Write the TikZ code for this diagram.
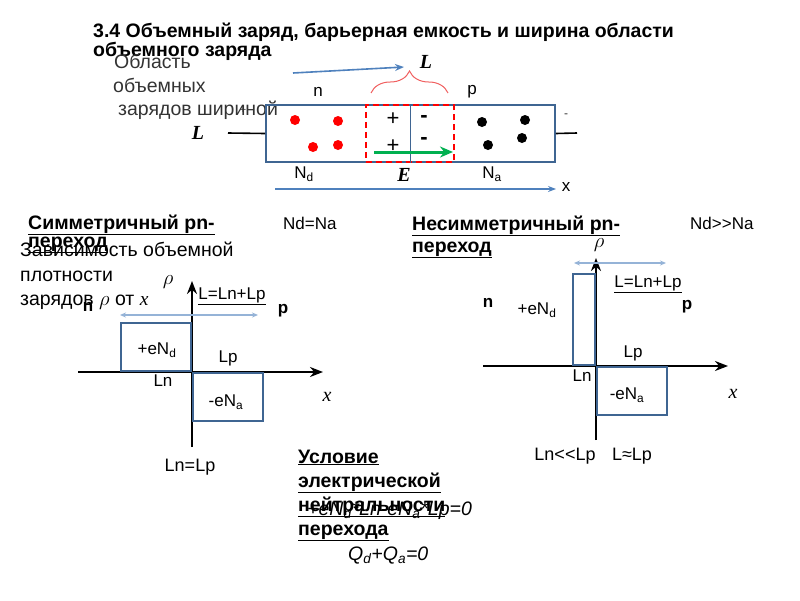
\documentclass[tikz,border=0pt]{standalone}
\usepackage{fontspec}
\setmainfont{Liberation Sans}
\newfontfamily\serif{Liberation Serif}
\usetikzlibrary{arrows.meta,decorations.pathreplacing}
\definecolor{boxblue}{HTML}{3F6592}
\definecolor{arrblue}{HTML}{4F81BD}
\definecolor{lightblue}{HTML}{95B3D7}
\definecolor{dotred}{HTML}{FF0000}
\definecolor{brred}{HTML}{F06060}
\definecolor{egreen}{HTML}{00B050}
\definecolor{txtgray}{HTML}{333333}
\begin{document}
\begin{tikzpicture}[x=1pt,y=-1pt,
  tl/.style={anchor=base west,inner sep=0pt,font=\fontsize{19.5}{21}\selectfont},
  tb/.style={tl,font=\fontsize{19.5}{21}\selectfont\bfseries},
  lb/.style={inner sep=0pt,font=\fontsize{17}{18}\selectfont},
  lbl/.style={inner sep=0pt,font=\fontsize{18}{19}\selectfont},
  lbb/.style={lb,font=\fontsize{17}{18}\selectfont\bfseries},
  sym/.style={inner sep=0pt,font=\fontsize{22}{24}\selectfont},
  itl/.style={inner sep=0pt,font=\fontsize{20}{22}\selectfont\serif\itshape},
  itb/.style={inner sep=0pt,font=\fontsize{20}{22}\selectfont\serif\bfseries\itshape},
  boxline/.style={draw=boxblue,line width=1.6pt},
  axisline/.style={line width=2.2pt,-{Stealth[length=13pt,width=10pt]}},
  dimline/.style={draw=lightblue,line width=1.3pt,{Stealth[length=6pt,width=5pt]}-{Stealth[length=6pt,width=5pt]}},
  reddot/.style={circle,fill=dotred,inner sep=0pt,minimum size=10pt},
  blackdot/.style={circle,fill=black,inner sep=0pt,minimum size=10pt}]
\useasboundingbox (0,0) rectangle (800,600);

% ---------- title ----------
\node[tb] (t1) at (93,37) {3.4 Объемный заряд, барьерная емкость и ширина области};
\node[tb] (t2) at (93,56) {объемного заряда};

% ---------- top diagram ----------
\node[tl,text=txtgray] (o1) at (114,68) {Область};
\node[tl,text=txtgray] (o2) at (113,92) {объемных};
\node[tl,text=txtgray] (o3) at (118,115) {зарядов шириной};
\node[inner sep=0pt,font=\fontsize{11}{12}\selectfont,text=txtgray] (tp) at (243,110) {+};

\coordinate (ba1) at (293,73);
\coordinate (ba2) at (404,67);
\draw[arrblue,line width=1.6pt,-{Stealth[length=9pt,width=7pt]}] (ba1) -- (ba2);

\coordinate (br1) at (371,93);
\coordinate (br2) at (448,93);
\draw[brred,line width=1pt,decorate,decoration={brace,amplitude=22pt}] (br1) -- (br2);
\node[itb] (Ltop) at (426,62) {L};

\coordinate (leadL) at (228,133);
\coordinate (leadR) at (577,133);
\node[boxline,rectangle,minimum width=289pt,minimum height=57pt,inner sep=0pt] (box) at (410.5,133.5) {};
\draw[line width=1.6pt] (leadL) -- (box.west);
\draw[line width=1.6pt] (box.east) -- (leadR);
\node[itb] (Lleft) at (198,133) {L};
\node[inner sep=0pt,font=\fontsize{12}{12}\selectfont,text=txtgray] (tm) at (566,116) {-};

\node[draw=red,dashed,line width=1.6pt,dash pattern=on 6pt off 4pt,minimum width=88pt,minimum height=57pt,inner sep=0pt] (scr) at (410,133.5) {};
\draw[boxline] (box.north) -- (box.south);

\node[lb] (nn) at (318,92) {n};
\node[lb] (pp) at (472,92) {p};

\node[reddot] (r1) at (295,120) {};
\node[reddot] (r2) at (338,121) {};
\node[reddot] (r3) at (313,147) {};
\node[reddot] (r4) at (338,145) {};
\node[blackdot] (k1) at (482,122) {};
\node[blackdot] (k2) at (525,120) {};
\node[blackdot] (k3) at (488,145) {};
\node[blackdot] (k4) at (522,138) {};

\node[sym] (pl1) at (393,119) {+};
\node[sym] (pl2) at (393,146) {+};
\node[sym,font=\fontsize{22}{24}\selectfont\bfseries] (mi1) at (424,119) {-};
\node[sym,font=\fontsize{22}{24}\selectfont\bfseries] (mi2) at (424,141) {-};

\coordinate (e1) at (374,152);
\coordinate (e2) at (453,152);
\draw[egreen,line width=3pt,-{Stealth[length=13pt,width=11pt]}] (e1) -- (e2);
\node[itb] (EE) at (404,175) {E};

\node[lb] (Nd) at (304,174) {N\textsubscript{d}};
\node[lb] (Na) at (492,174) {N\textsubscript{a}};
\coordinate (x1) at (275,189);
\coordinate (x2) at (556,189);
\draw[arrblue,line width=1.3pt,-{Stealth[length=8pt,width=6pt]}] (x1) -- (x2);
\node[lb] (xl) at (566,187) {x};

% ---------- symmetric ----------
\node[tb] (s1) at (28,229) {\underline{Симметричный pn-}};
\node[tb] (s2) at (28,247) {\underline{переход}};
\node[tl,font=\fontsize{17}{18}\selectfont] (ndna) at (283,229) {Nd=Na};
\node[tl] (z1) at (20,256) {Зависимость объемной};
\node[tl] (z2) at (20,281) {плотности};
\node[tl] (z3) at (20,305) {зарядов $\rho$ от {\serif\itshape x}};

\coordinate (ax1b) at (78,372);
\coordinate (ax1e) at (323,372);
\coordinate (ay1b) at (192,447);
\coordinate (ay1e) at (192,281);
\draw[axisline] (ax1b) -- (ax1e);
\draw[axisline] (ay1b) -- (ay1e);
\node[boxline,rectangle,minimum width=70pt,minimum height=48pt,inner sep=0pt,anchor=south east] (rp1) at (192,372) {};
\node[boxline,rectangle,minimum width=70pt,minimum height=48pt,inner sep=0pt,anchor=north west] (rn1) at (192,372) {};
\coordinate (d1a) at (120,315);
\coordinate (d1b) at (258,315);
\draw[dimline] (d1a) -- (d1b);

\node[inner sep=0pt,font=\fontsize{22}{22}\selectfont] (rho1) at (168,282) {$\rho$};
\node[lb] (L1) at (232,296) {\underline{L=Ln+Lp}};
\node[lbb] (n1) at (88,307) {n};
\node[lbb] (p1) at (283,311) {p};
\node[lb] (eNd1) at (157,350) {+eN\textsubscript{d}};
\node[lb] (Lp1) at (228,358) {Lp};
\node[lb] (Ln1) at (163,381) {Ln};
\node[lb] (eNa1) at (226,402) {-eN\textsubscript{a}};
\node[itl] (xx1) at (327,397) {x};
\node[lbl] (LnLp) at (190,467) {Ln=Lp};

% ---------- asymmetric ----------
\node[tb] (a1) at (412,230) {\underline{Несимметричный pn-}};
\node[tb] (a2) at (412,252) {\underline{переход}};
\node[tl,font=\fontsize{17}{18}\selectfont] (ndna2) at (690,229) {Nd>{}>Na};

\coordinate (ax2b) at (483,366);
\coordinate (ax2e) at (728,366);
\coordinate (ay2b) at (596,440);
\coordinate (ay2e) at (596,258);
\draw[axisline] (ax2b) -- (ax2e);
\draw[axisline] (ay2b) -- (ay2e);
\node[boxline,rectangle,minimum width=22pt,minimum height=91pt,inner sep=0pt,anchor=south east] (rp2) at (596,366) {};
\node[boxline,rectangle,minimum width=70pt,minimum height=48pt,inner sep=0pt,anchor=north west] (rn2) at (596,366) {};
\coordinate (d2a) at (574,263);
\coordinate (d2b) at (666,263);
\draw[dimline] (d2a) -- (d2b);

\node[inner sep=0pt,font=\fontsize{22}{22}\selectfont] (rho2) at (599,245) {$\rho$};
\node[lb] (L2) at (648,284) {\underline{L=Ln+Lp}};
\node[lbb] (n2) at (488,303) {n};
\node[lb] (eNd2) at (537,310) {+eN\textsubscript{d}};
\node[lbb] (p2) at (687,307) {p};
\node[lb] (Lp2) at (633,353) {Lp};
\node[lb] (Ln2) at (582,376) {Ln};
\node[lb] (eNa2) at (627,395) {-eN\textsubscript{a}};
\node[itl] (xx2) at (733,394) {x};
\node[lbl] (LnLLp) at (565,456) {Ln<{}<Lp};
\node[lbl] (LaLp) at (632,456) {L≈Lp};

% ---------- neutrality ----------
\node[tb] (u1) at (298,463) {\underline{Условие}};
\node[tb] (u2) at (298,487) {\underline{электрической}};
\node[tb] (u3) at (298,511) {\underline{нейтральности}};
\node[tb] (u4) at (298,535) {\underline{перехода}};
\node[anchor=base west,inner sep=0pt,font=\fontsize{19.5}{20}\selectfont\itshape] (eq1) at (307,515) {+eN\textsubscript{d}*Ln-eN\textsubscript{a}*Lp=0};
\node[anchor=base west,inner sep=0pt,font=\fontsize{19.5}{20}\selectfont\itshape] (eq2) at (348,560) {Q\textsubscript{d}+Q\textsubscript{a}=0};
\end{tikzpicture}
\end{document}
